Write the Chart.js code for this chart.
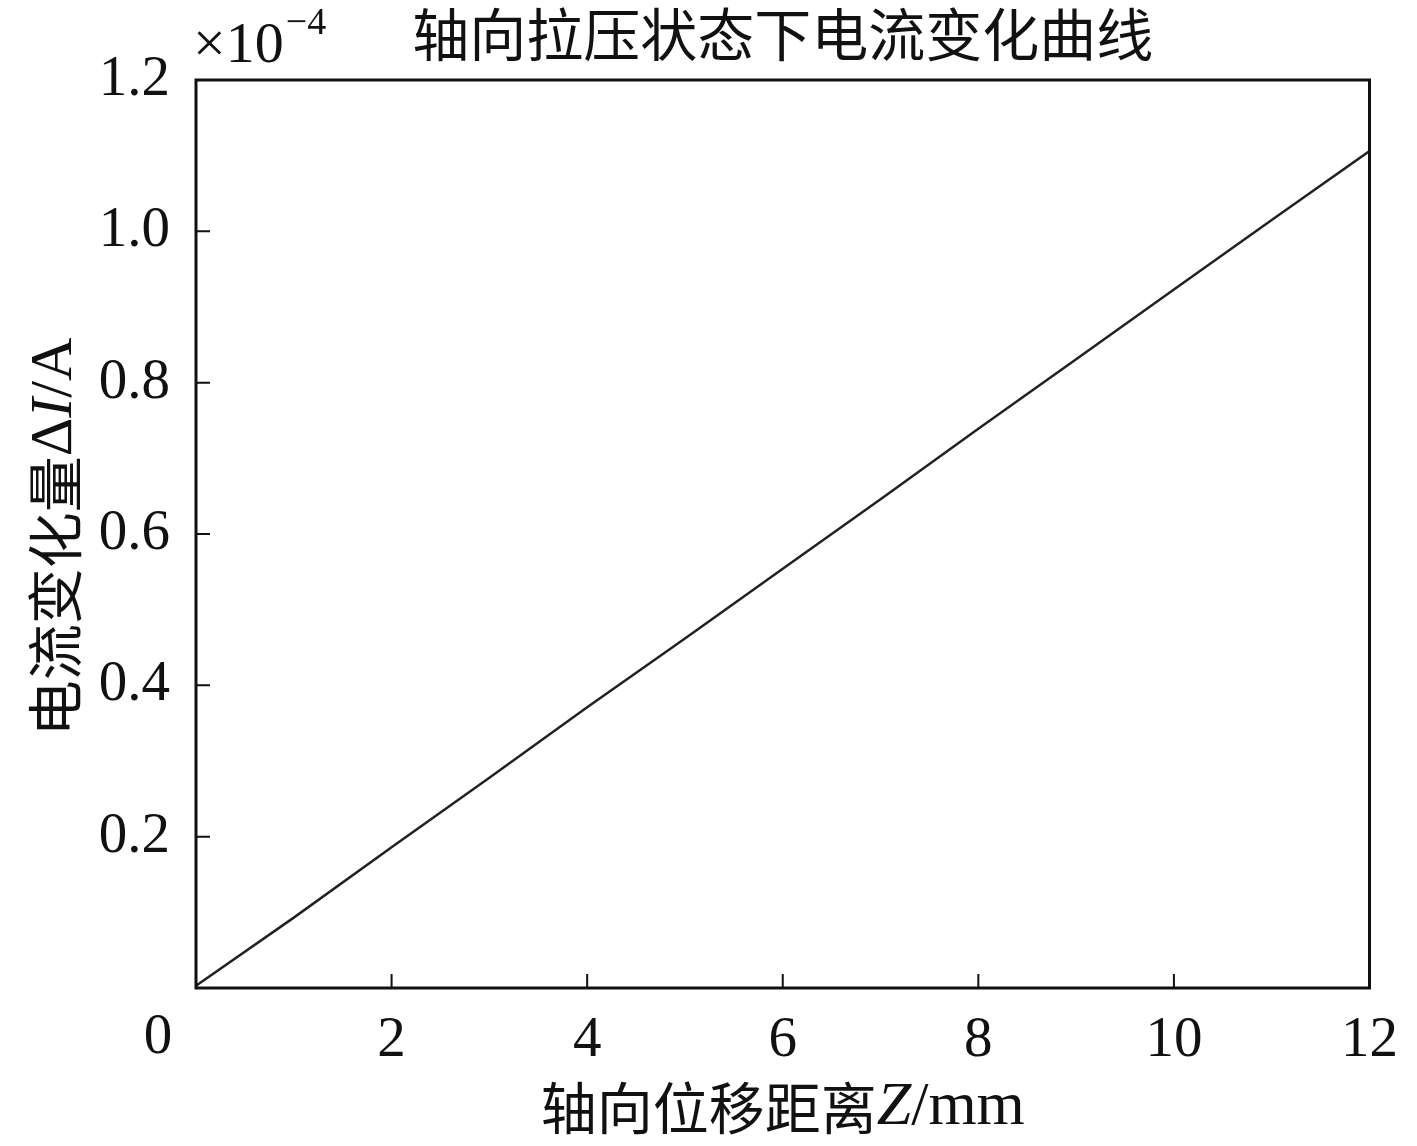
<!DOCTYPE html>
<html>
<head>
<meta charset="utf-8">
<script src="https://cdn.jsdelivr.net/npm/chart.js@4.4.1/dist/chart.umd.min.js"></script>
<style>
  html, body { margin: 0; padding: 0; background: #fff; }
  #wrap { width: 1417px; height: 1146px; }
</style>
</head>
<body>
<div id="wrap"><canvas id="chart" width="1417" height="1146"></canvas></div>
<script>
// axial displacement Z (mm) and current change (x1e-4 A)
const zValues = [0, 1, 2, 3, 4, 5, 6, 7, 8, 9, 10, 11, 12];
const deltaI = [0.003, 0.093, 0.186, 0.278, 0.371, 0.462, 0.554, 0.646, 0.739, 0.831, 0.923, 1.015, 1.106];
const xTicks = [2, 4, 6, 8, 10, 12];
const yTicks = [0.2, 0.4, 0.6, 0.8, 1.0, 1.2];

const chartTitle = '轴向拉压状态下电流变化曲线';
const serif = '"Liberation Serif", "Times New Roman", serif';
const cjk = '"Noto Sans CJK SC", sans-serif';

// draws the frame, inward ticks, titles and the exponent note
const decorations = {
    id: 'decorations',
    afterDraw(chart) {
        const ctx = chart.ctx;
        const a = chart.chartArea;
        const xs = chart.scales.x;
        const ys = chart.scales.y;

        ctx.save();
        ctx.strokeStyle = '#111';
        ctx.lineWidth = 3;
        ctx.strokeRect(a.left, a.top, a.right - a.left, a.bottom - a.top);

        // inward ticks
        ctx.lineWidth = 2;
        ctx.beginPath();
        xTicks.forEach(v => {
            const px = xs.getPixelForValue(v);
            ctx.moveTo(px, a.bottom);
            ctx.lineTo(px, a.bottom - 14);
        });
        yTicks.forEach(v => {
            const py = ys.getPixelForValue(v);
            ctx.moveTo(a.left, py);
            ctx.lineTo(a.left + 14, py);
        });
        ctx.stroke();

        ctx.fillStyle = '#111';

        // lone origin label
        ctx.font = '57px ' + serif;
        ctx.textAlign = 'center';
        ctx.textBaseline = 'middle';
        ctx.fillText('0', a.left - 38, 1038);

        // title
        ctx.font = '57px ' + cjk;
        ctx.fillText(chartTitle, (a.left + a.right) / 2, 34);

        // exponent note
        ctx.textAlign = 'left';
        ctx.textBaseline = 'alphabetic';
        ctx.font = '58px ' + serif;
        ctx.fillText('×10', 193, 62);
        const w = ctx.measureText('×10').width;
        ctx.font = '38px ' + serif;
        ctx.fillText('−4', 193 + w + 2, 34);

        // x axis title: 轴向位移距离Z/mm
        drawMixed(ctx, [
            ['轴向位移距离', '56px ' + cjk],
            ['Z', 'italic 62px ' + serif],
            ['/mm', '62px ' + serif]
        ], (a.left + a.right) / 2, 1108);

        // y axis title, rotated
        ctx.translate(55, (a.top + a.bottom) / 2 + 3);
        ctx.rotate(-Math.PI / 2);
        drawMixed(ctx, [
            ['电流变化量', '56px ' + cjk],
            ['Δ', '60px ' + serif],
            ['I', 'italic 60px ' + serif],
            ['/A', '60px ' + serif]
        ], 0, 0);
        ctx.restore();
    }
};

function drawMixed(ctx, parts, cx, cy) {
    let total = 0;
    parts.forEach(p => { ctx.font = p[1]; total += ctx.measureText(p[0]).width; });
    let x = cx - total / 2;
    ctx.textAlign = 'left';
    ctx.textBaseline = 'middle';
    parts.forEach(p => {
        ctx.font = p[1];
        ctx.fillText(p[0], x, cy);
        x += ctx.measureText(p[0]).width;
    });
}

new Chart(document.getElementById('chart'), {
    type: 'line',
    data: {
        datasets: [{
            data: zValues.map((z, i) => ({ x: z, y: deltaI[i] })),
            borderColor: '#222',
            borderWidth: 2.5,
            pointRadius: 0,
            tension: 0,
            fill: false
        }]
    },
    options: {
        responsive: false,
        animation: false,
        layout: { padding: { top: 80, right: 35, left: 0, bottom: 0 } },
        plugins: {
            legend: { display: false },
            title: { display: false },
            tooltip: { enabled: false }
        },
        scales: {
            x: {
                type: 'linear',
                min: 0,
                max: 12,
                afterFit: s => { s.height = 158; },
                afterBuildTicks: s => { s.ticks = xTicks.map(v => ({ value: v })); },
                grid: { display: false, drawTicks: false },
                border: { display: false },
                ticks: {
                    color: '#111',
                    padding: 19,
                    maxRotation: 0,
                    font: { family: serif, size: 57 },
                    callback: v => String(v)
                }
            },
            y: {
                min: 0,
                max: 1.2,
                afterFit: s => { s.width = 196; },
                afterBuildTicks: s => { s.ticks = yTicks.map(v => ({ value: v })); },
                grid: { display: false, drawTicks: false },
                border: { display: false },
                ticks: {
                    color: '#111',
                    padding: 26,
                    font: { family: serif, size: 57 },
                    callback: v => v.toFixed(1)
                }
            }
        }
    },
    plugins: [decorations]
});
</script>
</body>
</html>
